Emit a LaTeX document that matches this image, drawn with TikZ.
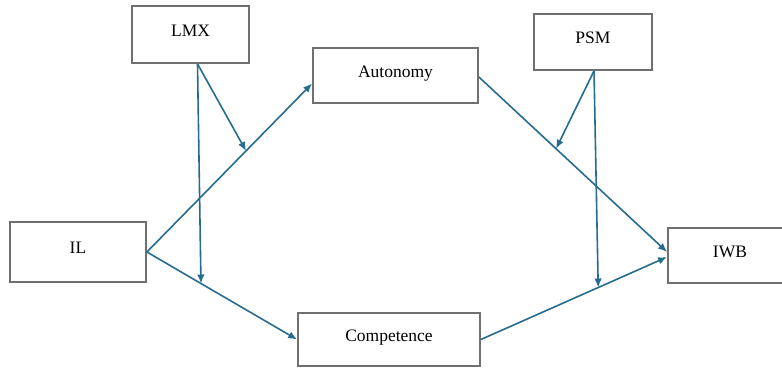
\documentclass[tikz,border=0pt]{standalone}
\usepackage{fontspec}
\setmainfont{Liberation Serif}
\usetikzlibrary{arrows.meta}

\definecolor{linkblue}{RGB}{38,108,142}
\definecolor{boxgray}{RGB}{112,112,112}

\begin{document}
\begin{tikzpicture}[x=1pt, y=-1pt,
	var/.style={draw=boxgray, line width=1.8pt, fill=white, inner sep=0pt,
		font=\fontsize{17.5}{20}\selectfont, text height=12pt, text depth=9pt},
	link/.style={draw=linkblue, line width=1.6pt, -{Latex[length=9pt,width=7.5pt]}}
	]
	\clip (0,0) rectangle (782,368);
	\useasboundingbox (0,0) rectangle (782,368);

	\node[var, minimum width=117pt, minimum height=57pt] (lmx) at (190.5,34.5) {LMX};
	\node[var, minimum width=118pt, minimum height=56pt] (psm) at (593,42) {PSM};
	\node[var, minimum width=165pt, minimum height=55pt] (aut) at (395.5,75.5) {Autonomy};
	\node[var, minimum width=136pt, minimum height=60pt] (il) at (78,252) {IL};
	\node[var, minimum width=124pt, minimum height=55pt] (iwb) at (730,255.5) {IWB};
	\node[var, minimum width=182pt, minimum height=53pt] (comp) at (389,339.5) {Competence};

	% main paths
	\path[link] (il.east) -- ([yshift=-8pt]aut.west) coordinate[pos=0.6] (m1);
	\path[link] (il.east) -- (comp.west) coordinate[pos=0.36] (m2);
	\path[link] ([yshift=-1.5pt]aut.east) -- ([yshift=3.5pt]iwb.west) coordinate[pos=0.41] (m3);
	\path[link] (comp.east) -- ([yshift=-1.5pt]iwb.west) coordinate[pos=0.63] (m4);

	% moderators
	\path[link] ([xshift=7pt]lmx.south) -- (m1);
	\path[link] ([xshift=7pt]lmx.south) -- (m2);
	\path[link] ([xshift=1pt]psm.south) -- (m3);
	\path[link] ([xshift=1pt]psm.south) -- (m4);
\end{tikzpicture}
\end{document}
